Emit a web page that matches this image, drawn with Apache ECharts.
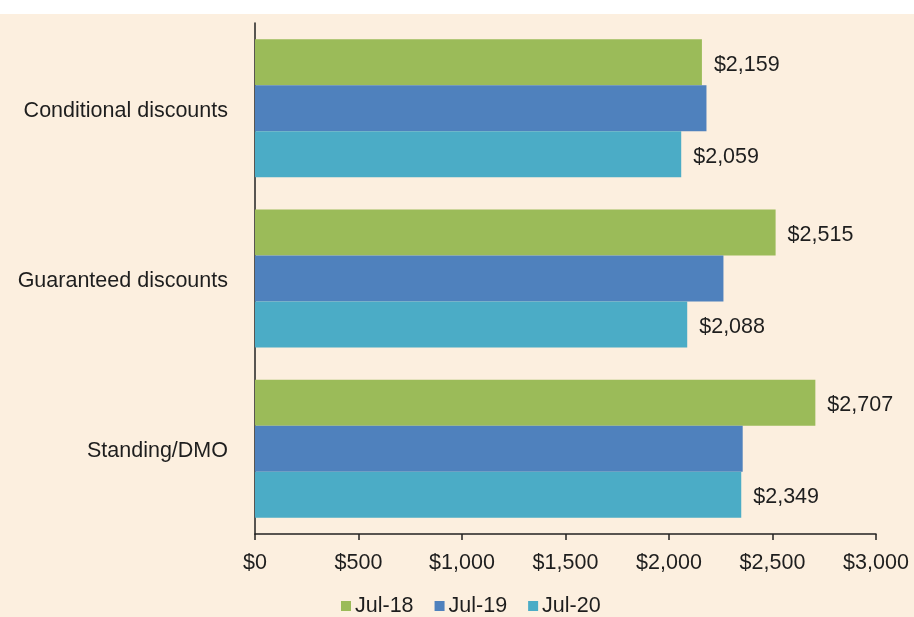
<!DOCTYPE html>
<html>
<head>
<meta charset="utf-8">
<script src="https://cdn.jsdelivr.net/npm/echarts@6/dist/echarts.min.js"></script>
<style>
html,body{margin:0;padding:0;background:#fff;}
#chart{width:914px;height:617px;}
</style>
</head>
<body>
<div id="chart"></div>
<script>
var categories = ['Conditional discounts', 'Guaranteed discounts', 'Standing/DMO'];
var seriesNames = ['Jul-18', 'Jul-19', 'Jul-20'];
var jul18 = [2159, 2515, 2707];
var jul19 = [2181, 2263, 2356];
var jul20 = [2059, 2088, 2349];
var xTicks = [0, 500, 1000, 1500, 2000, 2500, 3000];

var FONT = '"Liberation Sans", Arial, Helvetica, sans-serif';
var TXT = '#1e1e1e';
var FS = 21.5;
function money(v){ return '$' + Number(v).toLocaleString('en-US'); }
var richShift = {t: {color: TXT, fontFamily: FONT, fontSize: FS, padding: [5, 0, 0, 0]}};

var chart = echarts.init(document.getElementById('chart'));
function labelCfg(show){
  return {show: show, position: 'right', distance: 12, color: TXT, fontFamily: FONT, fontSize: FS,
    rich: richShift,
    formatter: function(p){ return '{t|' + money(p.value) + '}'; }};
}
chart.setOption({
  backgroundColor: '#fcefdf',
  animation: false,
  textStyle: {fontFamily: FONT},
  graphic: [{type: 'rect', shape: {x: 0, y: 0, width: 914, height: 14}, style: {fill: '#ffffff'}, silent: true}],
  grid: {left: 255, right: 38, top: 23, bottom: 83, containLabel: false},
  legend: {
    data: seriesNames, top: 595, left: 341, padding: 0, itemWidth: 10, itemHeight: 10, itemGap: 21,
    icon: 'rect',
    textStyle: {color: TXT, fontFamily: FONT, fontSize: FS, padding: [3,0,0,-1]}
  },
  xAxis: {
    type: 'value', min: xTicks[0], max: xTicks[xTicks.length-1], interval: 500,
    axisLine: {show: true, lineStyle: {color: '#222', width: 1.5}},
    axisTick: {show: true, length: 6, lineStyle: {color: '#222', width: 1.5}},
    splitLine: {show: false},
    axisLabel: {color: TXT, fontFamily: FONT, fontSize: FS, margin: 18, formatter: function(v){ return money(v); }}
  },
  yAxis: {
    type: 'category', data: categories, inverse: true,
    axisLine: {show: true, lineStyle: {color: '#222', width: 1.5}},
    axisTick: {show: false},
    axisLabel: {color: TXT, fontFamily: FONT, fontSize: FS, margin: 27, rich: richShift,
      formatter: function(v){ return '{t|' + v + '}'; }}
  },
  series: [
    {name: seriesNames[0], type: 'bar', data: jul18, itemStyle: {color: '#9bbb59'}, barGap: '0%', barCategoryGap: '19%', label: labelCfg(true)},
    {name: seriesNames[1], type: 'bar', data: jul19, itemStyle: {color: '#4f81bd'}, barGap: '0%', barCategoryGap: '19%', label: labelCfg(false)},
    {name: seriesNames[2], type: 'bar', data: jul20, itemStyle: {color: '#4bacc6'}, barGap: '0%', barCategoryGap: '19%', label: labelCfg(true)}
  ]
});
</script>
</body>
</html>
